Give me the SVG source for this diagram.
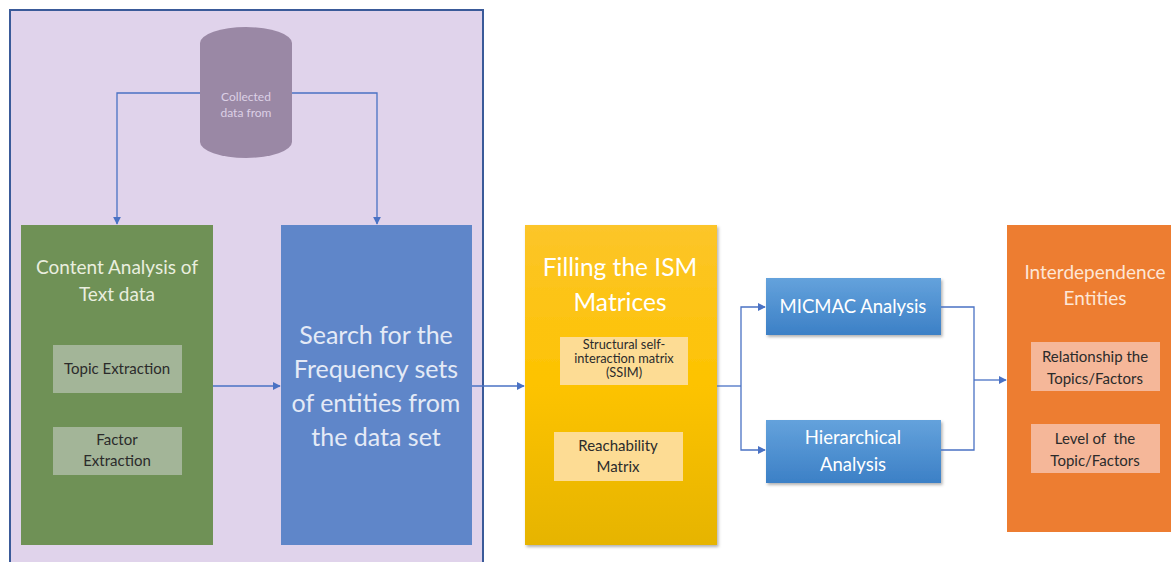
<svg xmlns="http://www.w3.org/2000/svg" width="1171" height="562" viewBox="0 0 1171 562">
<defs>
<style>
text{font-family:Lato,"Open Sans","Liberation Sans",sans-serif;text-anchor:middle;white-space:pre}
.conn{fill:none;stroke:#4a72c4;stroke-width:1.3}
.lt{fill:#e9eedf}
.dk{fill:#2b2b2b}
.wt{fill:#ffffff}
</style>
<marker id="ah" viewBox="0 0 10 10" refX="9" refY="5" markerWidth="8" markerHeight="8" orient="auto" markerUnits="userSpaceOnUse">
<path d="M0,0 L10,5 L0,10 z" fill="#4a72c4"/>
</marker>
<linearGradient id="yel" x1="0" y1="0" x2="0" y2="1">
<stop offset="0" stop-color="#fcc52a"/>
<stop offset="0.5" stop-color="#fdc300"/>
<stop offset="1" stop-color="#e6b400"/>
</linearGradient>
<linearGradient id="blu" x1="0" y1="0" x2="0" y2="1">
<stop offset="0" stop-color="#64a2dc"/>
<stop offset="1" stop-color="#3c80c6"/>
</linearGradient>
<filter id="sh" x="-10%" y="-10%" width="125%" height="125%">
<feDropShadow dx="1.5" dy="2" stdDeviation="1.5" flood-color="#000" flood-opacity="0.3"/>
</filter>
</defs>
<rect width="1171" height="562" fill="#ffffff"/>
<g id="frame">
<rect x="10" y="10" width="473" height="560" fill="#e0d3eb" stroke="#3a5a99" stroke-width="2"/>
</g>
<g id="database">
<path d="M200,43 A46,16 0 0 1 292,43 L292,142 A46,16 0 0 1 200,142 Z" fill="#9a88a5"/>
<text x="246" y="101" font-size="12" fill="#dcd0e6">Collected</text>
<text x="246" y="117" font-size="12" fill="#dcd0e6">data from</text>
</g>
<g id="content-analysis">
<rect x="21" y="225" width="192" height="320" fill="#6f9156"/>
<text x="117" y="274" font-size="19" class="lt">Content Analysis of</text>
<text x="117" y="301" font-size="19" class="lt">Text data</text>
<rect x="53" y="345" width="129" height="48" fill="#a3b598"/>
<text x="117" y="374" font-size="15" class="dk">Topic Extraction</text>
<rect x="53" y="427" width="129" height="48" fill="#a3b598"/>
<text x="117" y="445" font-size="15" class="dk">Factor</text>
<text x="117" y="466" font-size="15" class="dk">Extraction</text>
</g>
<g id="search">
<rect x="281" y="225" width="191" height="320" fill="#5f86c9"/>
<g font-size="25" fill="#e4eaf6">
<text x="376" y="344">Search for the</text>
<text x="376" y="378">Frequency sets</text>
<text x="376" y="412">of entities from</text>
<text x="376" y="446">the data set</text>
</g>
</g>
<g id="ism">
<rect x="525" y="225" width="192" height="320" fill="url(#yel)" filter="url(#sh)"/>
<text x="620" y="276" font-size="24.5" class="wt">Filling the ISM</text>
<text x="620" y="311" font-size="24.5" class="wt">Matrices</text>
<rect x="560" y="337" width="128" height="48" fill="#fddc94"/>
<g font-size="12.8" class="dk">
<text x="624" y="349">Structural self-</text>
<text x="624" y="363">interaction matrix</text>
<text x="624" y="377">(SSIM)</text>
</g>
<rect x="554" y="432" width="129" height="49" fill="#fddc94"/>
<text x="618" y="451" font-size="15" class="dk">Reachability</text>
<text x="618" y="472" font-size="15" class="dk">Matrix</text>
</g>
<g id="micmac">
<rect x="766" y="278" width="175" height="57" fill="url(#blu)" filter="url(#sh)"/>
<text x="853" y="313" font-size="18.5" class="wt">MICMAC Analysis</text>
</g>
<g id="hierarchical">
<rect x="766" y="420" width="175" height="63" fill="url(#blu)" filter="url(#sh)"/>
<text x="853" y="444" font-size="18.5" class="wt">Hierarchical</text>
<text x="853" y="471" font-size="18.5" class="wt">Analysis</text>
</g>
<g id="interdependence">
<rect x="1007" y="225" width="170" height="307" fill="#ed7d31"/>
<text x="1095" y="279" font-size="19" fill="#fde6d6">Interdependence</text>
<text x="1095" y="305" font-size="19" fill="#fde6d6">Entities</text>
<rect x="1031" y="342" width="129" height="49" fill="#f5b799"/>
<text x="1095" y="362" font-size="15" class="dk">Relationship the</text>
<text x="1095" y="384" font-size="15" class="dk">Topics/Factors</text>
<rect x="1031" y="424" width="129" height="49" fill="#f5b799"/>
<text x="1095" y="444" font-size="15" class="dk">Level of  the</text>
<text x="1095" y="466" font-size="15" class="dk">Topic/Factors</text>
</g>
<g id="connectors">
<path class="conn" d="M200,93 H117 V224" marker-end="url(#ah)"/>
<path class="conn" d="M292,93 H377 V224" marker-end="url(#ah)"/>
<path class="conn" d="M213,386 H280" marker-end="url(#ah)"/>
<path class="conn" d="M472,386 H524" marker-end="url(#ah)"/>
<path class="conn" d="M717,386 H741"/>
<path class="conn" d="M741,386 V307 H765" marker-end="url(#ah)"/>
<path class="conn" d="M741,386 V450 H765" marker-end="url(#ah)"/>
<path class="conn" d="M941,307 H974 V450 H941"/>
<path class="conn" d="M974,380 H1006" marker-end="url(#ah)"/>
</g>
</svg>
